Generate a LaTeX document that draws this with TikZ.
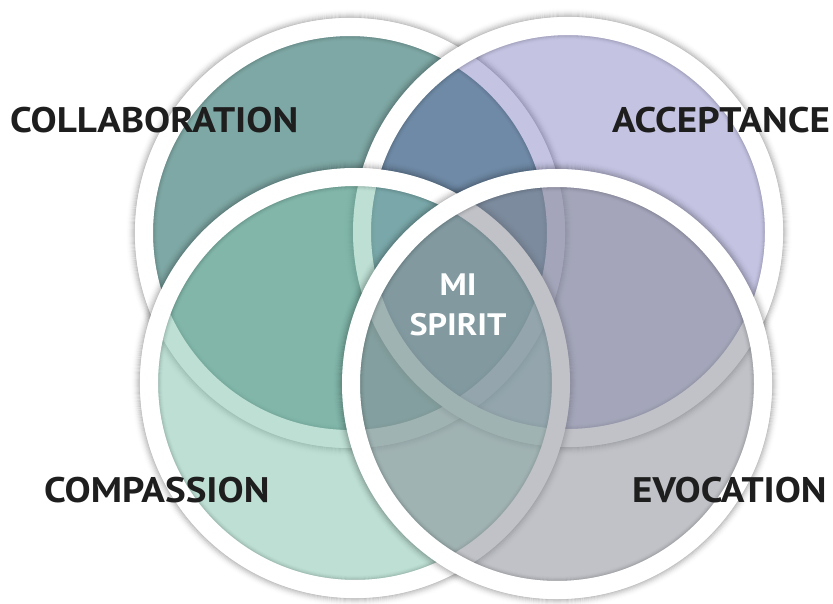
\documentclass[tikz,border=0pt]{standalone}
\usepackage{fontspec}
\setmainfont{PT Sans}
\newfontfamily\labfont{PT Sans}[FakeStretch=1.1]
\definecolor{labc}{RGB}{30,30,30}
\definecolor{collab}{RGB}{126,168,165}
\definecolor{accept}{RGB}{84,81,170}
\definecolor{compas}{RGB}{132,196,174}
\definecolor{evoc}{RGB}{136,140,151}
\newcommand\venncirc[4]{%
  \foreach \k in {1,...,9}{%
    \pgfmathsetmacro\op{0.2*(1-(\k-1)/9)^2}%
    \pgfmathsetmacro\rr{215+\k-0.5}%
    \draw[black, draw opacity=\op, line width=1.1pt] (#1,#2) circle[radius=\rr];
  }%
  \fill[#3, fill opacity=#4] (#1,#2) circle[radius=206];
  \foreach \k in {1,...,5}{%
    \pgfmathsetmacro\op{0.12*(1-(\k-1)/5)^2}%
    \pgfmathsetmacro\rr{197-\k+0.5}%
    \draw[black, draw opacity=\op, line width=1.1pt] (#1,#2) circle[radius=\rr];
  }%
  \draw[ring] (#1,#2) circle[radius=206];
}
\begin{document}
\begin{tikzpicture}[x=1pt,y=-1pt,
  ring/.style={draw=white,line width=18pt},
  lab/.style={font=\labfont\fontsize{35.5}{36}\selectfont\bfseries, text=labc, inner sep=0pt, anchor=base west},
  mid/.style={font=\labfont\fontsize{31}{32}\selectfont\bfseries, text=white, inner sep=0pt, anchor=base}]
\useasboundingbox (0,0) rectangle (833,604);
\fill[white] (0,0) rectangle (833,604);
\venncirc{350}{233}{collab}{1}
\venncirc{568}{232}{accept}{0.34}
\venncirc{355}{383}{compas}{0.53}
\venncirc{557}{384}{evoc}{0.53}
\node[lab] (collaboration) at (10,133) {COLLABORATION};
\node[lab] (acceptance) at (612,133) {ACCEPTANCE};
\node[lab] (compassion) at (44,502) {COMPASSION};
\node[lab] (evocation) at (632,502) {EVOCATION};
\node[mid] (mi) at (458,295) {MI};
\node[mid] (spirit) at (458,335) {SPIRIT};
\end{tikzpicture}
\end{document}
